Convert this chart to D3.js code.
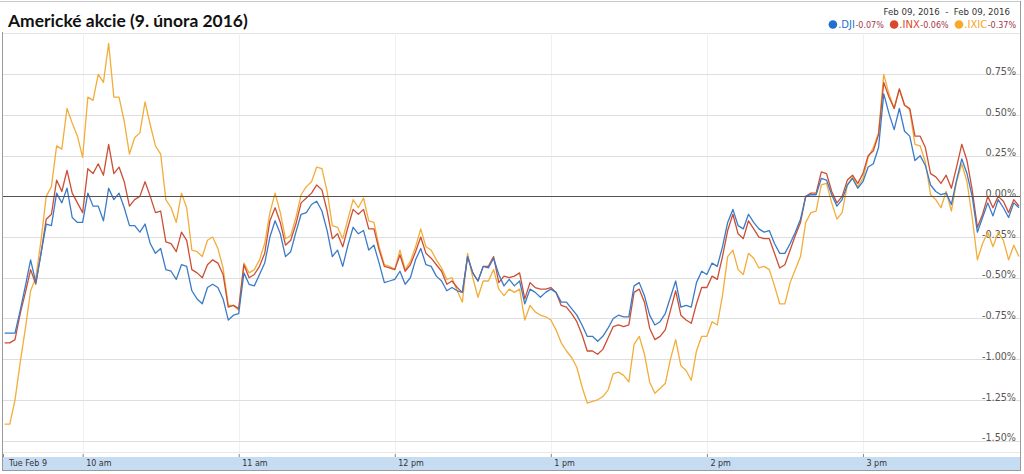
<!DOCTYPE html>
<html><head><meta charset="utf-8">
<script src="https://cdn.jsdelivr.net/npm/d3@7"></script>
<style>body{margin:0;background:#fff;overflow:hidden} svg{display:block}</style>
</head><body><svg id="c" width="1024" height="474"></svg>
<script>
const title = "Americké akcie (9. února 2016)";
const dateRange = "Feb 09, 2016  -  Feb 09, 2016";
const seriesNames = [".DJI", ".INX", ".IXIC"];
const seriesChanges = ["-0.07%", "-0.06%", "-0.37%"];
const seriesColors = ["#3a7bc8", "#cc4f35", "#f2ad3a"];
const dotColors = ["#1f6fd0", "#d9482a", "#f7a928"];
const yTicks = [0.75, 0.5, 0.25, 0, -0.25, -0.5, -0.75, -1, -1.25, -1.5];
const xTickHours = [10, 11, 12, 13, 14, 15];
const xTickLabels = ["10 am", "11 am", "12 pm", "1 pm", "2 pm", "3 pm"];
const firstLabel = "Tue Feb 9";
const openMinute = 9 * 60 + 30, closeMinute = 16 * 60, stepMinutes = 2;

// % change vs previous close, one value every 2 minutes from 9:30 to 16:00
const dji = [
-0.84,-0.84,-0.84,-0.70,-0.55,-0.39,-0.53,-0.35,-0.17,-0.18,
0.02,-0.04,0.05,-0.13,-0.16,-0.16,0.02,-0.06,-0.06,-0.15,
0.05,-0.02,0.02,-0.07,-0.18,-0.18,-0.22,-0.17,-0.29,-0.35,
-0.32,-0.45,-0.46,-0.51,-0.42,-0.43,-0.58,-0.63,-0.66,-0.56,
-0.54,-0.56,-0.63,-0.76,-0.73,-0.72,-0.47,-0.54,-0.55,-0.48,
-0.41,-0.25,-0.15,-0.23,-0.37,-0.34,-0.22,-0.11,-0.10,-0.05,
-0.03,-0.09,-0.21,-0.37,-0.33,-0.43,-0.30,-0.19,-0.23,-0.21,
-0.33,-0.30,-0.41,-0.53,-0.52,-0.51,-0.46,-0.54,-0.50,-0.39,
-0.32,-0.42,-0.43,-0.49,-0.52,-0.58,-0.56,-0.58,-0.59,-0.37,
-0.47,-0.52,-0.43,-0.44,-0.38,-0.48,-0.55,-0.51,-0.55,-0.52,
-0.66,-0.57,-0.59,-0.62,-0.59,-0.57,-0.59,-0.65,-0.65,-0.69,
-0.73,-0.79,-0.86,-0.86,-0.89,-0.86,-0.81,-0.75,-0.73,-0.74,
-0.74,-0.55,-0.53,-0.61,-0.73,-0.79,-0.77,-0.72,-0.62,-0.52,
-0.68,-0.67,-0.68,-0.53,-0.46,-0.48,-0.41,-0.43,-0.31,-0.16,
-0.08,-0.18,-0.20,-0.11,-0.16,-0.20,-0.22,-0.21,-0.29,-0.35,
-0.35,-0.29,-0.22,-0.14,0.00,0.01,0.01,0.11,0.10,0.01,
-0.06,-0.02,0.07,0.11,0.05,0.09,0.18,0.20,0.30,0.63,
0.51,0.41,0.54,0.40,0.37,0.22,0.25,0.19,0.07,0.03,
0.01,0.02,-0.05,0.10,0.23,0.14,0.00,-0.22,-0.13,-0.04,
-0.12,-0.02,-0.07,-0.13,-0.04,-0.07];
const inx = [
-0.90,-0.90,-0.88,-0.72,-0.59,-0.45,-0.54,-0.35,-0.14,-0.11,
0.10,0.03,0.16,0.02,-0.04,-0.10,0.17,0.14,0.20,0.13,
0.32,0.14,0.18,0.09,-0.06,-0.02,0.00,0.09,0.00,-0.10,
-0.09,-0.28,-0.29,-0.34,-0.22,-0.27,-0.45,-0.47,-0.50,-0.42,
-0.39,-0.41,-0.48,-0.68,-0.67,-0.69,-0.42,-0.50,-0.48,-0.43,
-0.35,-0.15,-0.07,-0.16,-0.30,-0.27,-0.17,-0.04,-0.01,0.02,
0.07,0.04,-0.09,-0.26,-0.23,-0.31,-0.19,-0.08,-0.11,-0.08,
-0.20,-0.20,-0.33,-0.43,-0.44,-0.45,-0.36,-0.46,-0.42,-0.34,
-0.25,-0.35,-0.38,-0.42,-0.46,-0.54,-0.52,-0.56,-0.59,-0.37,
-0.47,-0.52,-0.43,-0.43,-0.37,-0.53,-0.49,-0.50,-0.49,-0.47,
-0.63,-0.53,-0.56,-0.57,-0.57,-0.56,-0.59,-0.67,-0.68,-0.72,
-0.77,-0.85,-0.95,-0.95,-0.97,-0.94,-0.87,-0.80,-0.79,-0.80,
-0.79,-0.59,-0.57,-0.65,-0.81,-0.88,-0.86,-0.82,-0.70,-0.58,
-0.73,-0.76,-0.78,-0.66,-0.56,-0.56,-0.49,-0.51,-0.37,-0.21,
-0.11,-0.23,-0.26,-0.15,-0.20,-0.25,-0.26,-0.26,-0.35,-0.44,
-0.42,-0.33,-0.24,-0.16,0.00,0.02,0.02,0.15,0.14,0.03,
-0.04,0.00,0.10,0.13,0.08,0.14,0.25,0.28,0.38,0.70,
0.61,0.54,0.66,0.56,0.54,0.37,0.37,0.30,0.14,0.12,
0.08,0.13,0.05,0.18,0.32,0.22,0.04,-0.19,-0.11,0.00,
-0.07,0.00,-0.03,-0.10,-0.02,-0.06];
const ixic = [
-1.40,-1.40,-1.25,-1.02,-0.81,-0.58,-0.50,-0.27,0.00,0.06,
0.31,0.29,0.54,0.45,0.37,0.24,0.61,0.59,0.75,0.70,
0.94,0.61,0.61,0.46,0.26,0.36,0.39,0.58,0.44,0.31,
0.26,-0.02,-0.07,-0.16,0.02,-0.07,-0.33,-0.34,-0.37,-0.27,
-0.25,-0.32,-0.44,-0.67,-0.67,-0.70,-0.41,-0.47,-0.45,-0.39,
-0.29,-0.10,0.02,-0.10,-0.26,-0.24,-0.13,0.01,0.06,0.09,
0.18,0.17,0.03,-0.18,-0.19,-0.26,-0.14,-0.02,-0.07,-0.01,
-0.15,-0.16,-0.31,-0.42,-0.43,-0.45,-0.33,-0.45,-0.40,-0.31,
-0.20,-0.31,-0.33,-0.39,-0.44,-0.51,-0.50,-0.58,-0.65,-0.35,
-0.50,-0.62,-0.52,-0.52,-0.45,-0.57,-0.61,-0.57,-0.59,-0.57,
-0.76,-0.67,-0.71,-0.73,-0.74,-0.76,-0.82,-0.90,-0.95,-0.99,
-1.05,-1.17,-1.27,-1.26,-1.25,-1.23,-1.19,-1.09,-1.08,-1.10,
-1.14,-0.91,-0.86,-0.97,-1.14,-1.21,-1.18,-1.15,-1.00,-0.88,
-1.04,-1.07,-1.13,-0.95,-0.86,-0.86,-0.77,-0.79,-0.61,-0.37,
-0.33,-0.45,-0.48,-0.35,-0.38,-0.44,-0.43,-0.45,-0.55,-0.66,
-0.66,-0.53,-0.45,-0.37,-0.16,-0.10,-0.09,0.07,0.08,-0.04,
-0.14,-0.10,0.07,0.12,0.06,0.11,0.24,0.30,0.39,0.75,
0.63,0.54,0.66,0.56,0.53,0.32,0.31,0.21,0.01,-0.02,
-0.07,0.03,-0.09,0.09,0.20,0.09,-0.13,-0.39,-0.29,-0.22,
-0.31,-0.22,-0.27,-0.39,-0.30,-0.37];

const seriesData = [dji, inx, ixic];

const svg = d3.select("#c");
const W = 1024, H = 474;
const plotLeft = 3, plotRight = 1020, plotTop = 33, plotBottom = 455;

const x = d3.scaleLinear().domain([openMinute, closeMinute]).range([4.6, 1019]);
const y = d3.scaleLinear().domain([-1.5, 0.75]).range([440.5, 74.3]);

svg.append("rect").attr("width", W).attr("height", H).attr("fill", "#fff");

// plot top line
svg.append("line").attr("x1", plotLeft).attr("x2", plotRight).attr("y1", plotTop + 0.5).attr("y2", plotTop + 0.5)
  .attr("stroke", "#e4e4e4");

// vertical faint grid
svg.append("g").selectAll("line").data(xTickHours).join("line")
  .attr("x1", d => Math.round(x(d * 60)) + 0.5).attr("x2", d => Math.round(x(d * 60)) + 0.5)
  .attr("y1", plotTop).attr("y2", plotBottom + 2)
  .attr("stroke", "#f1f1f1");

// horizontal grid
svg.append("g").selectAll("line").data(yTicks.filter(v => v !== 0)).join("line")
  .attr("x1", plotLeft).attr("x2", plotRight)
  .attr("y1", d => Math.round(y(d)) + 0.5).attr("y2", d => Math.round(y(d)) + 0.5)
  .attr("stroke", "#dedede");
svg.append("line").attr("x1", plotLeft).attr("x2", plotRight)
  .attr("y1", Math.round(y(0)) + 0.5).attr("y2", Math.round(y(0)) + 0.5)
  .attr("stroke", "#b4b4b4");
svg.append("line").attr("x1", plotLeft).attr("x2", plotRight).attr("y1", 452.5).attr("y2", 452.5)
  .attr("stroke", "#e8e8e8");

// y axis labels (right side)
const yAxis = d3.axisLeft(y).tickValues(yTicks).tickSize(0).tickPadding(0)
  .tickFormat(d => d.toFixed(2) + "%");
const yg = svg.append("g").attr("transform", "translate(1016,0)").call(yAxis);
yg.select(".domain").remove();
yg.selectAll("text").attr("dy", "0.2").attr("fill", "#555")
  .style("font-family", "'DejaVu Sans', Verdana, sans-serif").style("font-size", "9.6px");

// series lines
const line = d3.line()
  .x((d, i) => x(openMinute + i * stepMinutes))
  .y(d => y(d));
[2, 1, 0].forEach(k => {
  svg.append("path").datum(seriesData[k])
    .attr("d", line).attr("fill", "none")
    .attr("stroke", seriesColors[k]).attr("stroke-width", 1.3)
    .attr("stroke-linejoin", "round");
});

// zero line on top
svg.append("line").attr("x1", plotLeft).attr("x2", plotRight)
  .attr("y1", Math.round(y(0)) + 0.5).attr("y2", Math.round(y(0)) + 0.5)
  .attr("stroke", "#5a5050").attr("stroke-width", 1);

// bottom band
svg.append("rect").attr("x", plotLeft).attr("y", 457).attr("width", plotRight - plotLeft).attr("height", 13)
  .attr("fill", "#c6dcf2");

// x axis
const xAxis = d3.axisBottom(x).tickValues(xTickHours.map(h => h * 60)).tickSize(3).tickPadding(3)
  .tickFormat((d, i) => xTickLabels[i]);
const xg = svg.append("g").attr("transform", "translate(0,454)").call(xAxis);
xg.select(".domain").remove();
xg.selectAll("line").attr("stroke", "#888");
xg.selectAll("text").attr("text-anchor", "start").attr("x", 3).attr("y", 0).attr("dy", "12.3")
  .attr("fill", "#333")
  .style("font-family", "'DejaVu Sans', Verdana, sans-serif").style("font-size", "8px");
svg.append("line").attr("x1", 3.5).attr("x2", 3.5).attr("y1", 454).attr("y2", 457).attr("stroke", "#888");
svg.append("text").attr("x", 9).attr("y", 466.3).text(firstLabel).attr("fill", "#333")
  .style("font-family", "'DejaVu Sans', Verdana, sans-serif").style("font-size", "8px");

// frame
const frame = svg.append("g").attr("stroke", "#9a9a9a").attr("fill", "none");
frame.append("line").attr("x1", 0).attr("x2", 1021).attr("y1", 1.5).attr("y2", 1.5).attr("stroke", "#c8c8c8");
frame.append("line").attr("x1", 2.5).attr("x2", 2.5).attr("y1", 32).attr("y2", 471);
frame.append("line").attr("x1", 1020.5).attr("x2", 1020.5).attr("y1", 1).attr("y2", 471);
frame.append("line").attr("x1", 2).attr("x2", 1021).attr("y1", 470.5).attr("y2", 470.5);

// title
const t = svg.append("text").attr("x", 8).attr("y", 27).text(title)
  .attr("fill", "#111").style("font-family", "Lato, 'Open Sans', sans-serif")
  .style("font-weight", "700").style("font-size", "17px");
const tw = t.node().getComputedTextLength();
t.style("font-size", (17 * 240 / tw).toFixed(2) + "px");

// date range
svg.append("text").attr("x", 1010).attr("y", 15).attr("text-anchor", "end")
  .attr("xml:space", "preserve").text(dateRange).attr("fill", "#333")
  .style("font-family", "'DejaVu Sans', Verdana, sans-serif").style("font-size", "8.6px");

// legend
const lg = svg.append("g");
let cx = 0;
const items = [];
seriesNames.forEach((name, i) => {
  const dot = lg.append("circle").attr("r", 4.3).attr("cy", 24.5).attr("fill", dotColors[i]);
  dot.attr("cx", cx + 4.3); cx += 9.6;
  const nt = lg.append("text").attr("x", cx).attr("y", 28.3).text(name).attr("fill", seriesColors[i] === "#f2ad3a" ? "#f5a623" : dotColors[i])
    .style("font-family", "'DejaVu Sans', Verdana, sans-serif").style("font-size", "10px");
  cx += nt.node().getComputedTextLength() + 0.5;
  const ct = lg.append("text").attr("x", cx).attr("y", 28).text(seriesChanges[i]).attr("fill", "#a3354a")
    .style("font-family", "'DejaVu Sans', Verdana, sans-serif").style("font-size", "8px");
  cx += ct.node().getComputedTextLength() + 6;
});
cx -= 6;
lg.attr("transform", `translate(${1016 - cx},0)`);
</script></body></html>
